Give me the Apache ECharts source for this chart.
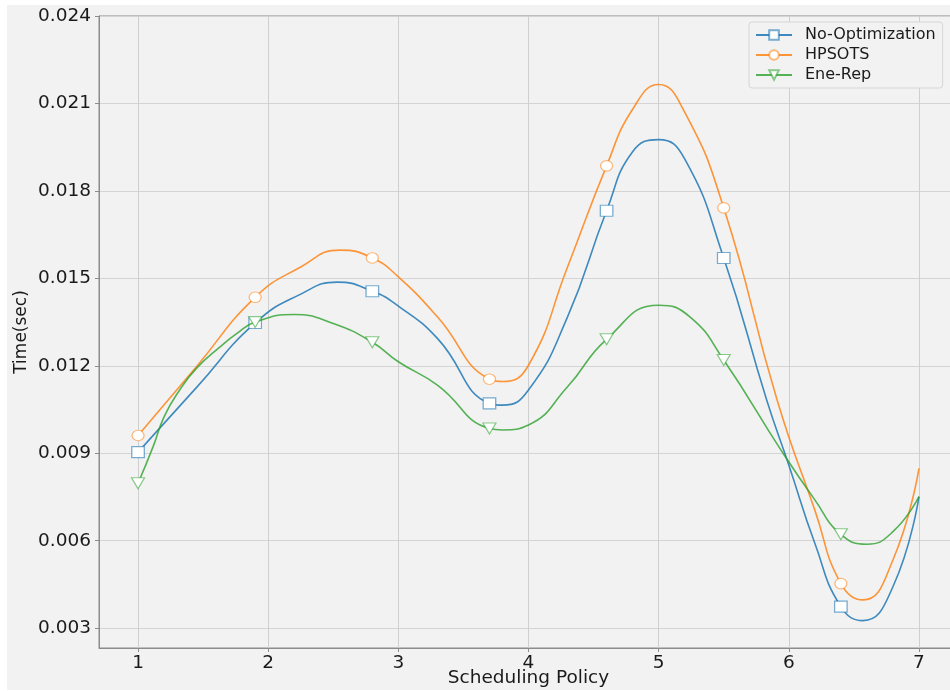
<!DOCTYPE html>
<html>
<head>
<meta charset="utf-8">
<script src="https://cdn.jsdelivr.net/npm/echarts@6/dist/echarts.min.js"></script>
<style>
html,body{margin:0;padding:0;background:#ffffff;width:950px;height:691px;overflow:hidden;}
#chart{position:absolute;left:7px;top:5px;width:943px;height:685px;}
</style>
</head>
<body>
<div id="chart"></div>
<script>
// ---- data ----
const seriesNames = ['No-Optimization', 'HPSOTS', 'Ene-Rep'];
const markerX = [1.0, 1.9, 2.8, 3.7, 4.6, 5.5, 6.4];

const noOptX      = [1.0, 1.45, 1.9, 2.25, 2.53, 2.8, 3.0, 3.3, 3.7, 3.8, 4.0, 4.3, 4.6, 4.8, 5.0, 5.2, 5.5, 5.83, 6.0, 6.2, 6.4, 6.57, 6.8, 7.0];
const noOptValues = [0.00904, 0.01126, 0.01347, 0.01446, 0.01487, 0.01456, 0.01405, 0.01294, 0.01071, 0.01065, 0.01117, 0.01368, 0.01732, 0.01934, 0.01976, 0.01910, 0.01570, 0.01083, 0.00860, 0.00591, 0.00374, 0.00326, 0.00442, 0.00751];

const hpsotsX      = [1.0, 1.45, 1.9, 2.25, 2.55, 2.8, 3.0, 3.3, 3.7, 3.8, 4.0, 4.3, 4.6, 4.8, 5.0, 5.2, 5.5, 5.91, 6.2, 6.4, 6.57, 6.8, 7.0];
const hpsotsValues = [0.00961, 0.01198, 0.01435, 0.01539, 0.01597, 0.01570, 0.01505, 0.01368, 0.01154, 0.01146, 0.01202, 0.01539, 0.01886, 0.02080, 0.02165, 0.02070, 0.01742, 0.01083, 0.00705, 0.00453, 0.00397, 0.00534, 0.00848];

const eneRepX      = [1.0, 1.115, 1.2, 1.32, 1.45, 1.63, 1.76, 1.9, 2.2, 2.5, 2.8, 3.0, 3.3, 3.7, 3.8, 4.0, 4.3, 4.6, 5.0, 5.24, 5.5, 5.94, 6.2, 6.4, 6.6, 6.8, 7.0];
const eneRepValues = [0.00797, 0.00922, 0.01025, 0.01117, 0.01192, 0.01265, 0.01311, 0.01350, 0.01376, 0.01345, 0.01281, 0.01214, 0.01134, 0.00985, 0.00980, 0.00997, 0.01128, 0.01291, 0.01408, 0.01368, 0.01220, 0.00911, 0.00740, 0.00622, 0.00588, 0.00631, 0.00751];

const xTicks = [1, 2, 3, 4, 5, 6, 7];
const yTicks = [0.003, 0.006, 0.009, 0.012, 0.015, 0.018, 0.021, 0.024];

const lineColors = ['rgba(31,119,180,0.85)', 'rgba(255,127,14,0.82)', 'rgba(44,160,44,0.8)'];
const edgeColors = ['rgba(31,119,180,0.6)', 'rgba(255,127,14,0.55)', 'rgba(44,160,44,0.55)'];
const symbols = ['rect', 'circle', 'path://M0,0L10,0L5,10Z'];
const symbolSizes = [[12.5, 11], [12, 10.5], [13, 11]];

function buildData(xs, values) {
  return xs.map((x, i) => {
    const item = { value: [x, values[i]] };
    if (!markerX.includes(x)) item.symbol = 'none';
    return item;
  });
}
const allData = [buildData(noOptX, noOptValues), buildData(hpsotsX, hpsotsValues), buildData(eneRepX, eneRepValues)];

const font = 'DejaVu Sans';
const chart = echarts.init(document.getElementById('chart'), null, { renderer: 'canvas' });
chart.setOption({
  backgroundColor: '#f2f2f2',
  animation: false,
  grid: { left: 92, top: 11, right: -8, bottom: 42, containLabel: false, outerBoundsMode: 'none',
          show: true, borderColor: '#8c8c8c', borderWidth: 1, backgroundColor: 'transparent' },
  legend: {
    orient: 'vertical', left: 742, top: 17,
    padding: [5, 7, 5, 6],
    itemWidth: 36, itemHeight: 12, itemGap: 4,
    backgroundColor: '#f2f2f2', borderColor: '#d6d6d6', borderWidth: 1, borderRadius: 3,
    textStyle: { fontFamily: font, fontSize: 16, color: '#1a1a1a', lineHeight: 15, padding: [0, 0, 0, 8] },
    data: seriesNames
  },
  xAxis: {
    type: 'value', min: 0.7, max: 7.3,
    name: 'Scheduling Policy', nameLocation: 'middle', nameGap: 21, nameMoveOverlap: false,
    nameTextStyle: { fontFamily: font, fontSize: 18.5, color: '#1a1a1a', verticalAlign: 'top' },
    axisLine: { show: true, onZero: false, lineStyle: { color: '#8c8c8c', width: 1 } },
    axisTick: { show: true, customValues: xTicks, length: 4, lineStyle: { color: '#8c8c8c' } },
    axisLabel: { customValues: xTicks, margin: 6, fontFamily: font, fontSize: 18.5, color: '#1a1a1a', formatter: v => String(Math.round(v)) },
    splitLine: { show: true, lineStyle: { color: '#cfcfcf', width: 1 } }
  },
  yAxis: {
    type: 'value', min: 0.00232, max: 0.024,
    name: 'Time(sec)', nameLocation: 'middle', nameGap: 69, nameRotate: 90, nameMoveOverlap: false,
    nameTextStyle: { fontFamily: font, fontSize: 17, color: '#1a1a1a' },
    axisLine: { show: true, lineStyle: { color: '#8c8c8c', width: 1 } },
    axisTick: { show: true, customValues: yTicks, length: 4, lineStyle: { color: '#8c8c8c' } },
    axisLabel: { customValues: yTicks, margin: 8, fontFamily: font, fontSize: 18.5, color: '#1a1a1a', formatter: v => v.toFixed(3) },
    splitLine: { show: true, lineStyle: { color: '#d4d4d4', width: 1.2 } }
  },
  series: seriesNames.map((name, i) => ({
    name: name,
    type: 'line',
    smooth: 0.5,
    data: allData[i],
    symbol: symbols[i],
    symbolSize: symbolSizes[i],
    symbolKeepAspect: false,
    showAllSymbol: true,
    clip: true,
    lineStyle: { color: lineColors[i], width: 1.6 },
    itemStyle: { color: '#ffffff', borderColor: edgeColors[i], borderWidth: 1.2 },
    z: 3 + i
  }))
});
</script>
</body>
</html>
